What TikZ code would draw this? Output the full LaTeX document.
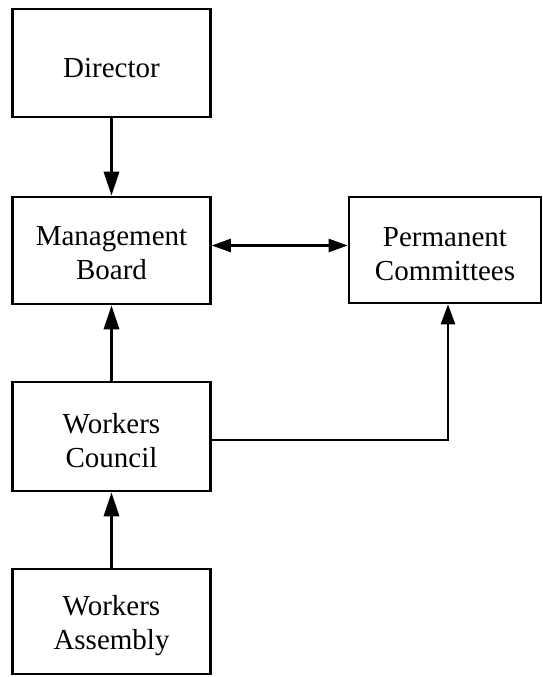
\documentclass[tikz,border=0pt]{standalone}
\usepackage{fontspec}
\setmainfont{Liberation Serif}
\usetikzlibrary{arrows.meta}
\begin{document}
\begin{tikzpicture}[x=1pt,y=-1pt,
  box/.style={draw, line width=2.6pt, rectangle, inner sep=0pt},
  caption/.style={inner sep=0pt, align=center, font=\fontsize{29}{34}\selectfont},
  uparrow/.style={line width=3.4pt, -{Triangle[length=24pt,width=15pt]}},
  sidearrow/.style={line width=2.4pt, {Triangle[length=19pt,width=13pt]}-{Triangle[length=19pt,width=13pt]}},
  feedline/.style={line width=2.4pt, -{Triangle[length=20pt,width=14pt]}}]
\useasboundingbox (0,0) rectangle (542,677);
% organisation boxes
\node[box, minimum width=198pt, minimum height=108pt] (dir) at (111.5,63) {};
\node[box, minimum width=198pt, minimum height=107pt] (mb) at (111.5,250.5) {};
\node[box, minimum width=192pt, minimum height=106pt] (pc) at (445,250) {};
\node[box, minimum width=198pt, minimum height=109pt] (wc) at (111.5,436.5) {};
\node[box, minimum width=198pt, minimum height=105pt] (wa) at (111.5,621.5) {};
% box captions, set a little below each box centre
\node[caption] (dirtext) at ([yshift=-5pt]dir.center) {Director};
\node[caption] (mbtext) at ([yshift=-3pt]mb.center) {Management\\Board};
\node[caption] (pctext) at ([yshift=-4pt]pc.center) {Permanent\\Committees};
\node[caption] (wctext) at ([yshift=-4pt]wc.center) {Workers\\Council};
\node[caption] (watext) at ([yshift=-4pt]wa.center) {Workers\\Assembly};
% connectors
\draw[uparrow] (dir.south) -- (mb.north);
\draw[uparrow] (wc.north) -- (mb.south);
\draw[uparrow] (wa.north) -- (wc.south);
\draw[sidearrow] ([yshift=5pt]mb.east) -- ([yshift=5pt]mb.east -| pc.west);
\draw[feedline] ([yshift=-3.5pt]wc.east) -| ([xshift=3pt]pc.south);
\end{tikzpicture}
\end{document}
